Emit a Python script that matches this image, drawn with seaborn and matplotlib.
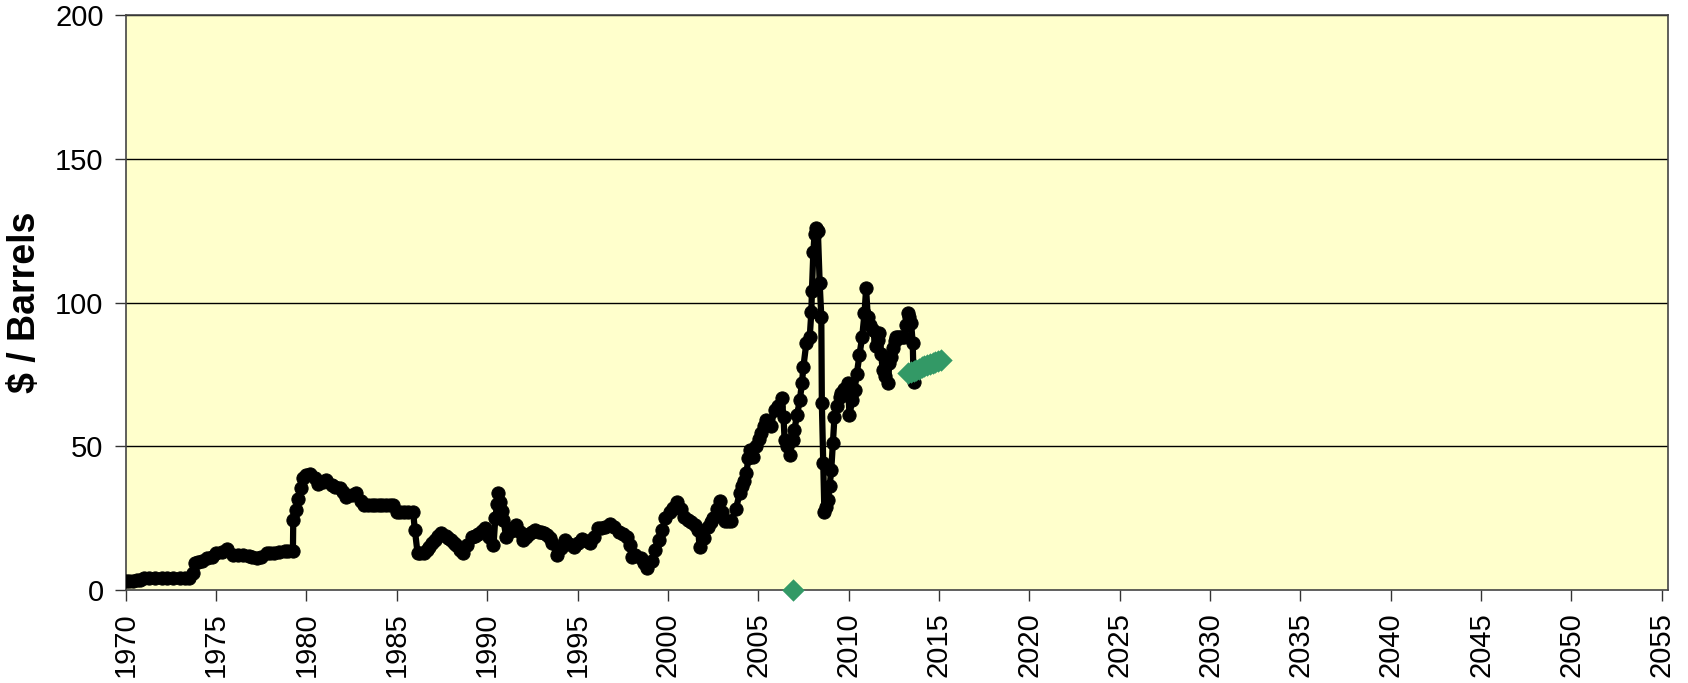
import numpy as np
import pandas as pd
import matplotlib
matplotlib.use('Agg')
import matplotlib.pyplot as plt
import seaborn as sns

# historical oil price
years_hist = [
    1970.0, 1970.2, 1970.4, 1970.6, 1970.8, 1971.0, 1971.3, 1971.6, 1972.0, 1972.3,
    1972.6, 1973.0, 1973.3, 1973.5, 1973.7, 1973.85, 1974.0, 1974.2, 1974.5, 1974.75,
    1975.0, 1975.3, 1975.6, 1975.95, 1976.2, 1976.5, 1976.8, 1977.0, 1977.25, 1977.5,
    1977.8, 1978.0, 1978.2, 1978.5, 1978.8, 1979.0, 1979.25, 1979.27, 1979.4, 1979.55,
    1979.7, 1979.8, 1980.0, 1980.2, 1980.45, 1980.65, 1980.9, 1981.1, 1981.4, 1981.6,
    1981.85, 1982.0, 1982.2, 1982.5, 1982.75, 1983.0, 1983.2, 1983.4, 1983.6, 1983.8,
    1984.0, 1984.2, 1984.4, 1984.6, 1984.8, 1985.0, 1985.2, 1985.4, 1985.6, 1985.9,
    1986.0, 1986.15, 1986.3, 1986.5, 1986.65, 1986.8, 1986.95, 1987.1, 1987.3, 1987.45,
    1987.7, 1987.85, 1988.0, 1988.15, 1988.3, 1988.5, 1988.65, 1988.9, 1989.15, 1989.3,
    1989.5, 1989.7, 1989.9, 1990.1, 1990.35, 1990.45, 1990.55, 1990.6, 1990.7, 1990.8,
    1990.9, 1991.05, 1991.3, 1991.45, 1991.6, 1991.8, 1992.0, 1992.15, 1992.3, 1992.5,
    1992.65, 1992.85, 1993.0, 1993.15, 1993.3, 1993.45, 1993.6, 1993.85, 1994.1, 1994.3,
    1994.55, 1994.8, 1995.0, 1995.25, 1995.5, 1995.7, 1995.9, 1996.15, 1996.3, 1996.5,
    1996.8, 1997.0, 1997.3, 1997.5, 1997.75, 1997.9, 1998.0, 1998.2, 1998.5, 1998.7,
    1998.85, 1999.1, 1999.3, 1999.5, 1999.7, 1999.85, 2000.1, 2000.3, 2000.5, 2000.7,
    2000.9, 2001.1, 2001.3, 2001.5, 2001.68, 2001.75, 2002.0, 2002.23, 2002.4, 2002.5,
    2002.7, 2002.87, 2003.0, 2003.15, 2003.3, 2003.5, 2003.75, 2003.98, 2004.1, 2004.2,
    2004.35, 2004.45, 2004.53, 2004.7, 2004.9, 2005.05, 2005.17, 2005.3, 2005.45, 2005.7,
    2005.9, 2006.1, 2006.3, 2006.4, 2006.46, 2006.6, 2006.74, 2006.9, 2007.0, 2007.15,
    2007.3, 2007.42, 2007.5, 2007.66, 2007.85, 2007.94, 2007.97, 2008.05, 2008.12, 2008.21,
    2008.3, 2008.4, 2008.49, 2008.52, 2008.6, 2008.66, 2008.75, 2008.86, 2008.95, 2009.04,
    2009.13, 2009.22, 2009.35, 2009.5, 2009.6, 2009.75, 2009.96, 2010.05, 2010.2, 2010.33,
    2010.45, 2010.6, 2010.75, 2010.88, 2010.97, 2011.06, 2011.2, 2011.34, 2011.5, 2011.6,
    2011.7, 2011.8, 2011.89, 2012.0, 2012.17, 2012.26, 2012.35, 2012.45, 2012.55, 2012.63,
    2012.75, 2012.85, 2012.95, 2013.09, 2013.2, 2013.27, 2013.35, 2013.46, 2013.55, 2013.6,
]
price_hist = [
    3.2, 3.2, 3.2, 3.3, 3.4, 4.3, 4.2, 4.2, 4.2, 4.2,
    4.2, 4.2, 4.2, 4.2, 5.8, 9.5, 9.8, 10.2, 11.0, 11.5,
    12.7, 13.3, 14.1, 12.2, 12.3, 12.0, 11.8, 11.5, 11.0, 11.4,
    12.7, 12.8, 13.0, 13.3, 13.4, 13.5, 13.7, 24.3, 27.8, 31.8,
    35.3, 38.8, 40.0, 40.5, 39.0, 37.0, 37.5, 38.2, 36.5, 35.8,
    35.3, 34.0, 32.4, 33.0, 33.6, 31.0, 29.5, 29.5, 29.5, 29.5,
    29.5, 29.5, 29.5, 29.5, 29.5, 27.2, 27.2, 27.2, 27.2, 27.2,
    20.8, 12.7, 12.7, 13.0, 13.9, 15.0, 16.5, 17.5, 18.8, 19.7,
    18.8, 18.0, 17.4, 16.5, 15.5, 14.0, 12.7, 15.5, 18.5, 18.8,
    19.5, 20.5, 21.4, 18.5, 15.6, 24.9, 30.0, 33.6, 30.7, 27.5,
    24.3, 18.5, 20.5, 21.5, 22.6, 20.0, 17.4, 18.5, 19.5, 20.3,
    20.8, 20.3, 20.0, 19.8, 19.1, 18.0, 16.5, 12.2, 14.5, 17.4,
    16.0, 15.0, 16.5, 17.9, 17.0, 16.2, 18.5, 21.4, 21.5, 22.0,
    23.1, 22.0, 20.3, 19.5, 18.5, 15.5, 11.6, 12.0, 11.0, 9.5,
    7.5, 10.0, 13.9, 17.5, 20.8, 25.0, 27.0, 28.5, 30.5, 28.0,
    25.5, 24.5, 23.5, 22.5, 21.0, 15.0, 18.0, 22.0, 23.5, 25.0,
    28.0, 31.0, 27.0, 24.0, 24.0, 24.0, 28.0, 33.6, 36.0, 38.0,
    40.6, 46.0, 48.7, 46.4, 50.0, 52.5, 54.5, 57.0, 59.0, 57.0,
    62.6, 64.0, 66.7, 60.0, 52.0, 50.0, 47.0, 52.0, 55.7, 61.0,
    66.0, 72.0, 77.7, 85.8, 88.0, 96.8, 104.0, 117.7, 124.0, 125.8,
    125.0, 106.7, 95.0, 65.0, 44.0, 27.2, 29.0, 31.3, 36.0, 41.7,
    51.0, 60.3, 64.0, 67.2, 68.5, 70.0, 71.9, 60.9, 66.0, 69.6,
    75.0, 81.7, 88.0, 96.2, 104.9, 95.0, 92.0, 90.4, 85.0, 87.0,
    89.3, 82.0, 76.5, 74.5, 71.9, 78.8, 81.0, 84.0, 86.5, 88.1,
    88.1, 88.1, 88.1, 88.1, 92.0, 96.2, 95.0, 92.8, 85.8, 72.5,
]

# forecast points (green diamonds)
years_proj = [2006.9, 2013.3, 2013.45, 2013.6, 2013.75, 2013.9, 2014.05, 2014.2,
              2014.35, 2014.5, 2014.65, 2014.8, 2014.95, 2015.1]
price_proj = [0.0, 75.5, 75.9, 76.3, 76.6, 77.0, 77.4, 77.8,
              78.2, 78.6, 78.9, 79.3, 79.7, 80.1]

year_ticks = list(range(1970, 2056, 5))
price_ticks = [0, 50, 100, 150, 200]

df_hist = pd.DataFrame({'year': years_hist, 'price': price_hist})
df_proj = pd.DataFrame({'year': years_proj, 'price': price_proj})

sns.set_style('white')
plt.rcParams['font.family'] = ['Liberation Sans', 'DejaVu Sans']

fig = plt.figure(figsize=(16.88, 6.83), dpi=100)
ax = fig.add_axes([0.0745, 0.1362, 0.9135, 0.8418])
ax.set_facecolor('#FFFFCC')

for v in price_ticks[1:]:
    ax.axhline(v, color='black', linewidth=1, zorder=1)

sns.lineplot(data=df_hist, x='year', y='price', sort=False, estimator=None,
             color='black', linewidth=4.5, marker='o', markersize=9.5,
             markeredgecolor='black', ax=ax, zorder=3)
sns.scatterplot(data=df_proj, x='year', y='price', marker='D', s=130,
                color='#339966', edgecolor='#339966', linewidth=0, ax=ax,
                zorder=4, clip_on=False)

ax.set_xlim(1970, 2055.33)
ax.set_ylim(0, 200)
ax.set_xticks(year_ticks)
ax.set_xticklabels([str(y) for y in year_ticks], rotation=90)
ax.set_yticks(price_ticks)
ax.tick_params(axis='both', which='major', labelsize=21, length=8, width=1,
               color='#333333', labelcolor='black', direction='out',
               bottom=True, left=True)
ax.tick_params(axis='y', pad=8)
ax.tick_params(axis='x', pad=8)

ax.set_xlabel('')
ax.set_ylabel('$ / Barrels', fontsize=27, fontweight='bold', color='black')
ax.yaxis.set_label_coords(-0.0536, 0.5)

for side in ['left', 'bottom', 'top', 'right']:
    ax.spines[side].set_color('#444444')
    ax.spines[side].set_linewidth(1.2)

fig.savefig('out.png', dpi=100)
plt.close(fig)
